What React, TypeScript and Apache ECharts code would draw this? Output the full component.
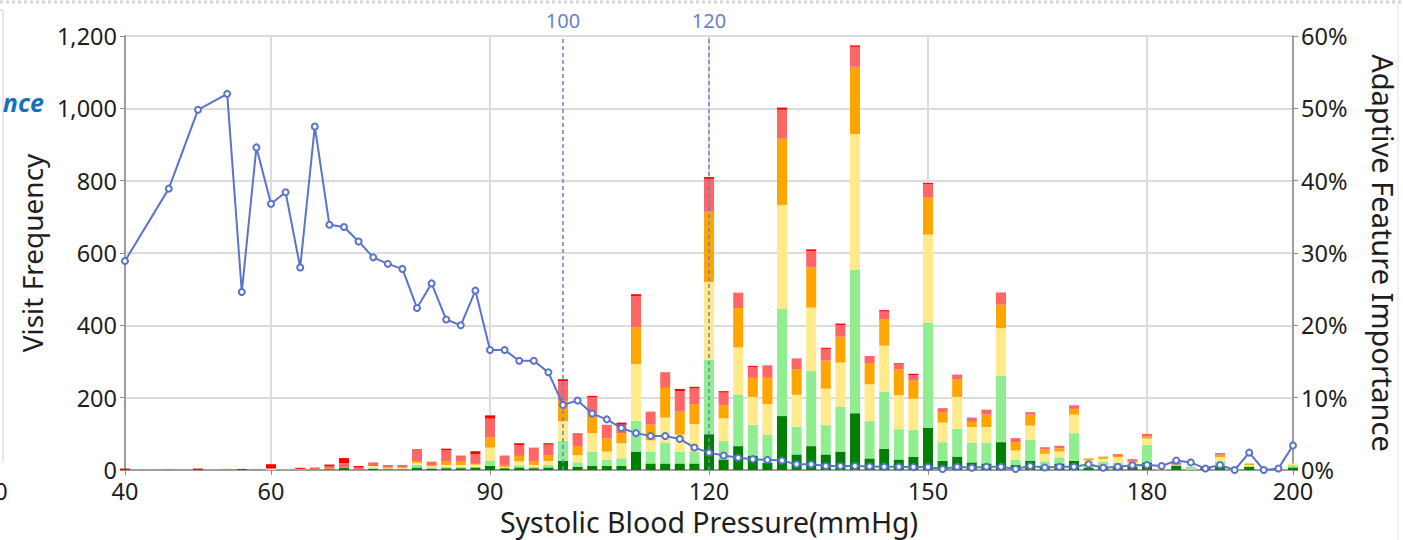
import React, { useEffect, useRef } from "react";
import * as echarts from "echarts";

// Systolic blood pressure values (mmHg)
const xValues = [40, 46, 50, 54, 56, 58, 60, 62, 64, 66, 68, 70, 72, 74, 76, 78, 80, 82, 84, 86, 88, 90, 92, 94, 96, 98, 100, 102, 104, 106, 108, 110, 112, 114, 116, 118, 120, 122, 124, 126, 128, 130, 132, 134, 136, 138, 140, 142, 144, 146, 148, 150, 152, 154, 156, 158, 160, 162, 164, 166, 168, 170, 172, 174, 176, 178, 180, 182, 184, 186, 188, 190, 192, 194, 196, 198, 200];

// Visit frequency, stacked from bottom to top
const darkGreen = [0, 0, 0, 0, 3, 0, 0, 0, 0, 0, 2, 7, 0, 3, 2, 2, 7, 4, 5, 5, 7, 11, 5, 7, 5, 7, 25, 9, 11, 11, 11, 51, 18, 18, 18, 18, 99, 29, 66, 40, 20, 149, 43, 66, 43, 51, 157, 32, 58, 29, 37, 117, 25, 37, 21, 18, 77, 14, 25, 12, 18, 25, 6, 9, 9, 9, 21, 0, 12, 0, 8, 12, 0, 9, 0, 0, 7];
const lightGreen = [0, 0, 0, 0, 0, 0, 0, 0, 0, 0, 0, 0, 0, 4, 0, 0, 8, 3, 4, 4, 2, 14, 0, 6, 4, 7, 55, 12, 40, 17, 21, 85, 32, 57, 32, 33, 206, 51, 143, 85, 78, 296, 77, 208, 81, 124, 396, 103, 159, 84, 74, 291, 52, 77, 55, 58, 183, 14, 58, 12, 17, 77, 7, 14, 12, 5, 48, 3, 3, 9, 0, 12, 2, 2, 0, 0, 6];
const lightYellow = [0, 0, 0, 0, 0, 0, 4, 0, 0, 0, 0, 0, 0, 4, 2, 3, 5, 3, 5, 5, 6, 37, 3, 11, 5, 11, 55, 20, 51, 23, 42, 157, 32, 70, 48, 76, 215, 63, 130, 77, 84, 288, 88, 175, 101, 122, 376, 102, 127, 94, 86, 243, 54, 88, 43, 43, 132, 26, 40, 21, 16, 51, 14, 8, 14, 6, 18, 3, 0, 0, 0, 12, 2, 3, 0, 0, 5];
const orange = [0, 0, 0, 0, 0, 0, 0, 3, 3, 0, 3, 1, 0, 0, 3, 2, 5, 3, 11, 9, 2, 28, 6, 15, 11, 15, 56, 25, 55, 37, 28, 102, 44, 82, 65, 55, 194, 37, 109, 53, 73, 183, 71, 111, 78, 72, 186, 57, 73, 71, 50, 102, 29, 48, 14, 34, 65, 23, 30, 12, 9, 16, 5, 6, 4, 5, 6, 0, 0, 0, 3, 6, 0, 4, 3, 0, 0];
const salmon = [0, 3, 0, 3, 0, 3, 0, 0, 0, 7, 5, 11, 7, 10, 7, 7, 33, 10, 29, 17, 27, 52, 26, 30, 37, 30, 55, 32, 44, 37, 23, 85, 34, 42, 55, 44, 91, 34, 41, 30, 33, 80, 28, 45, 32, 32, 55, 20, 21, 15, 15, 38, 11, 14, 12, 14, 34, 11, 7, 6, 7, 10, 0, 0, 5, 5, 7, 0, 5, 0, 0, 5, 0, 0, 0, 0, 0];
const red = [4, 0, 4, 0, 0, 0, 12, 0, 3, 0, 5, 14, 4, 0, 0, 0, 0, 0, 5, 0, 8, 9, 0, 5, 0, 4, 5, 3, 4, 0, 6, 6, 1, 1, 6, 4, 5, 4, 1, 3, 1, 6, 1, 5, 3, 4, 4, 1, 4, 2, 4, 3, 0, 0, 0, 0, 0, 0, 0, 0, 0, 0, 0, 0, 0, 0, 0, 0, 0, 0, 0, 0, 0, 0, 0, 0, 0];

// Adaptive feature importance (%)
const importance = [28.9, 38.9, 49.8, 52.0, 24.6, 44.6, 36.8, 38.4, 28.0, 47.5, 33.9, 33.6, 31.6, 29.4, 28.5, 27.8, 22.4, 25.8, 20.8, 20.0, 24.8, 16.6, 16.6, 15.1, 15.1, 13.5, 9.0, 9.6, 7.8, 7.0, 5.8, 5.1, 4.7, 4.7, 4.3, 3.1, 2.4, 2.0, 1.7, 1.5, 1.4, 1.3, 0.8, 0.8, 0.55, 0.55, 0.55, 0.5, 0.45, 0.45, 0.4, 0.4, 0.15, 0.45, 0.3, 0.45, 0.45, 0.15, 0.55, 0.35, 0.45, 0.45, 0.8, 0.3, 0.45, 0.65, 0.7, 0.55, 1.3, 1.05, 0.2, 0.7, 0.0, 2.4, 0.0, 0.2, 3.4];

const xTickValues = [40, 60, 90, 120, 150, 180, 200];
const thresholds = [100, 120];

const stackSeries = [
  { name: "dark green", data: darkGreen, color: "#008000" },
  { name: "light green", data: lightGreen, color: "#90EE90" },
  { name: "light yellow", data: lightYellow, color: "#FFEA8C" },
  { name: "orange", data: orange, color: "#FFA500" },
  { name: "salmon", data: salmon, color: "#FF6666" },
  { name: "red", data: red, color: "#FF0000" },
];

const FONT = '"Noto Sans", "Open Sans", sans-serif';
const TXT = "#1e1e1e";

export default function App() {
  const ref = useRef<HTMLDivElement>(null);

  useEffect(() => {
    document.body.style.margin = "0";
    if (!ref.current) return;
    const chart = echarts.init(ref.current, undefined, { renderer: "svg" });

    // value first so that the stacked dimension is the y (value) dimension
    const bars = stackSeries.map((s) => ({
      name: s.name,
      type: "bar",
      stack: "visits",
      barWidth: 10,
      clip: false,
      yAxisIndex: 0,
      encode: { x: 1, y: 0 },
      itemStyle: { color: s.color },
      data: xValues.map((x, i) => [s.data[i], x]),
      z: 2,
    }));

    const option: any = {
      animation: false,
      textStyle: { fontFamily: FONT },
      grid: { left: 125, right: 110, top: 36, bottom: 70, outerBoundsMode: "none", containLabel: false },
      xAxis: {
        type: "value",
        min: 40,
        max: 200,
        name: "Systolic Blood Pressure(mmHg)",
        nameLocation: "middle",
        nameGap: 33,
        nameTextStyle: { fontSize: 28.5, lineHeight: 28, color: TXT, fontFamily: FONT },
        axisLine: { show: true, lineStyle: { color: "#8a8a8a", width: 1.5 } },
        axisTick: { show: true, length: 5, customValues: xTickValues, lineStyle: { color: "#8a8a8a" } },
        axisLabel: { customValues: xTickValues, fontSize: 23.5, lineHeight: 18, color: TXT, margin: 12 },
        splitLine: { show: true, lineStyle: { color: "#dcdcdc", width: 2 } },
      },
      yAxis: [
        {
          type: "value",
          min: 0,
          max: 1200,
          interval: 200,
          name: "Visit Frequency",
          nameLocation: "middle",
          nameGap: 77,
          nameTextStyle: { fontSize: 28, color: TXT, fontFamily: FONT },
          axisLine: { show: true, lineStyle: { color: "#8a8a8a", width: 1.5 } },
          axisTick: { show: true, length: 5, lineStyle: { color: "#8a8a8a" } },
          axisLabel: {
            fontSize: 23.5,
            lineHeight: 18,
            color: TXT,
            margin: 8,
            formatter: (v: number) => v.toLocaleString("en-US"),
          },
          splitLine: { show: true, lineStyle: { color: "#dcdcdc", width: 2 } },
        },
        {
          type: "value",
          position: "right",
          min: 0,
          max: 60,
          interval: 10,
          name: "Adaptive Feature Importance",
          nameLocation: "middle",
          nameRotate: -90,
          nameGap: 76,
          nameTextStyle: { fontSize: 29, color: TXT, fontFamily: FONT },
          axisLine: { show: true, lineStyle: { color: "#8a8a8a", width: 1.5 } },
          axisTick: { show: true, length: 5, lineStyle: { color: "#8a8a8a" } },
          axisLabel: { fontSize: 23.5, lineHeight: 18, color: TXT, margin: 8, formatter: "{value}%" },
          splitLine: { show: false },
        },
      ],
      series: [
        ...bars,
        {
          name: "importance",
          type: "line",
          yAxisIndex: 1,
          data: xValues.map((x, i) => [x, importance[i]]),
          symbol: "emptyCircle",
          symbolSize: 6,
          showAllSymbol: true,
          lineStyle: { color: "#5B73C9", width: 2 },
          itemStyle: { color: "#5B73C9", borderWidth: 1.5 },
          z: 5,
          markLine: {
            silent: true,
            symbol: ["none", "none"],
            lineStyle: { type: [4, 3], color: "#6A80D0", width: 1.5 },
            label: {
              show: true,
              position: "end",
              distance: 6,
              formatter: (p: any) => String(p.value),
              color: "#6A80D0",
              fontSize: 20,
              fontFamily: FONT,
            },
            data: thresholds.map((t) => ({ xAxis: t })),
          },
        },
      ],
      graphic: [
        {
          type: "line",
          shape: { x1: 0, y1: 2, x2: 1403, y2: 2 },
          style: { stroke: "#d4d4d4", lineWidth: 3, lineDash: [3, 3] },
          silent: true,
        },
        {
          type: "line",
          shape: { x1: 3, y1: 10, x2: 3, y2: 462 },
          style: { stroke: "#cfcfcf", lineWidth: 1 },
          silent: true,
        },
        {
          type: "line",
          shape: { x1: 0, y1: 10, x2: 3, y2: 10 },
          style: { stroke: "#cfcfcf", lineWidth: 1 },
          silent: true,
        },
        {
          type: "line",
          shape: { x1: 1398, y1: 4, x2: 1398, y2: 540 },
          style: { stroke: "#e2e2e2", lineWidth: 1 },
          silent: true,
        },
        {
          type: "text",
          x: 44,
          y: 102,
          style: {
            text: "nce",
            font: `italic bold 25px ${FONT}`,
            fill: "#1570C0",
            align: "right",
            verticalAlign: "middle",
          },
          silent: true,
        },
        {
          type: "text",
          x: 1,
          y: 491,
          style: {
            text: "0",
            font: `23px ${FONT}`,
            fill: TXT,
            align: "center",
            verticalAlign: "middle",
          },
          silent: true,
        },
      ],
    };

    chart.setOption(option);
    return () => chart.dispose();
  }, []);

  return <div ref={ref} style={{ width: 1403, height: 540 }} />;
}
